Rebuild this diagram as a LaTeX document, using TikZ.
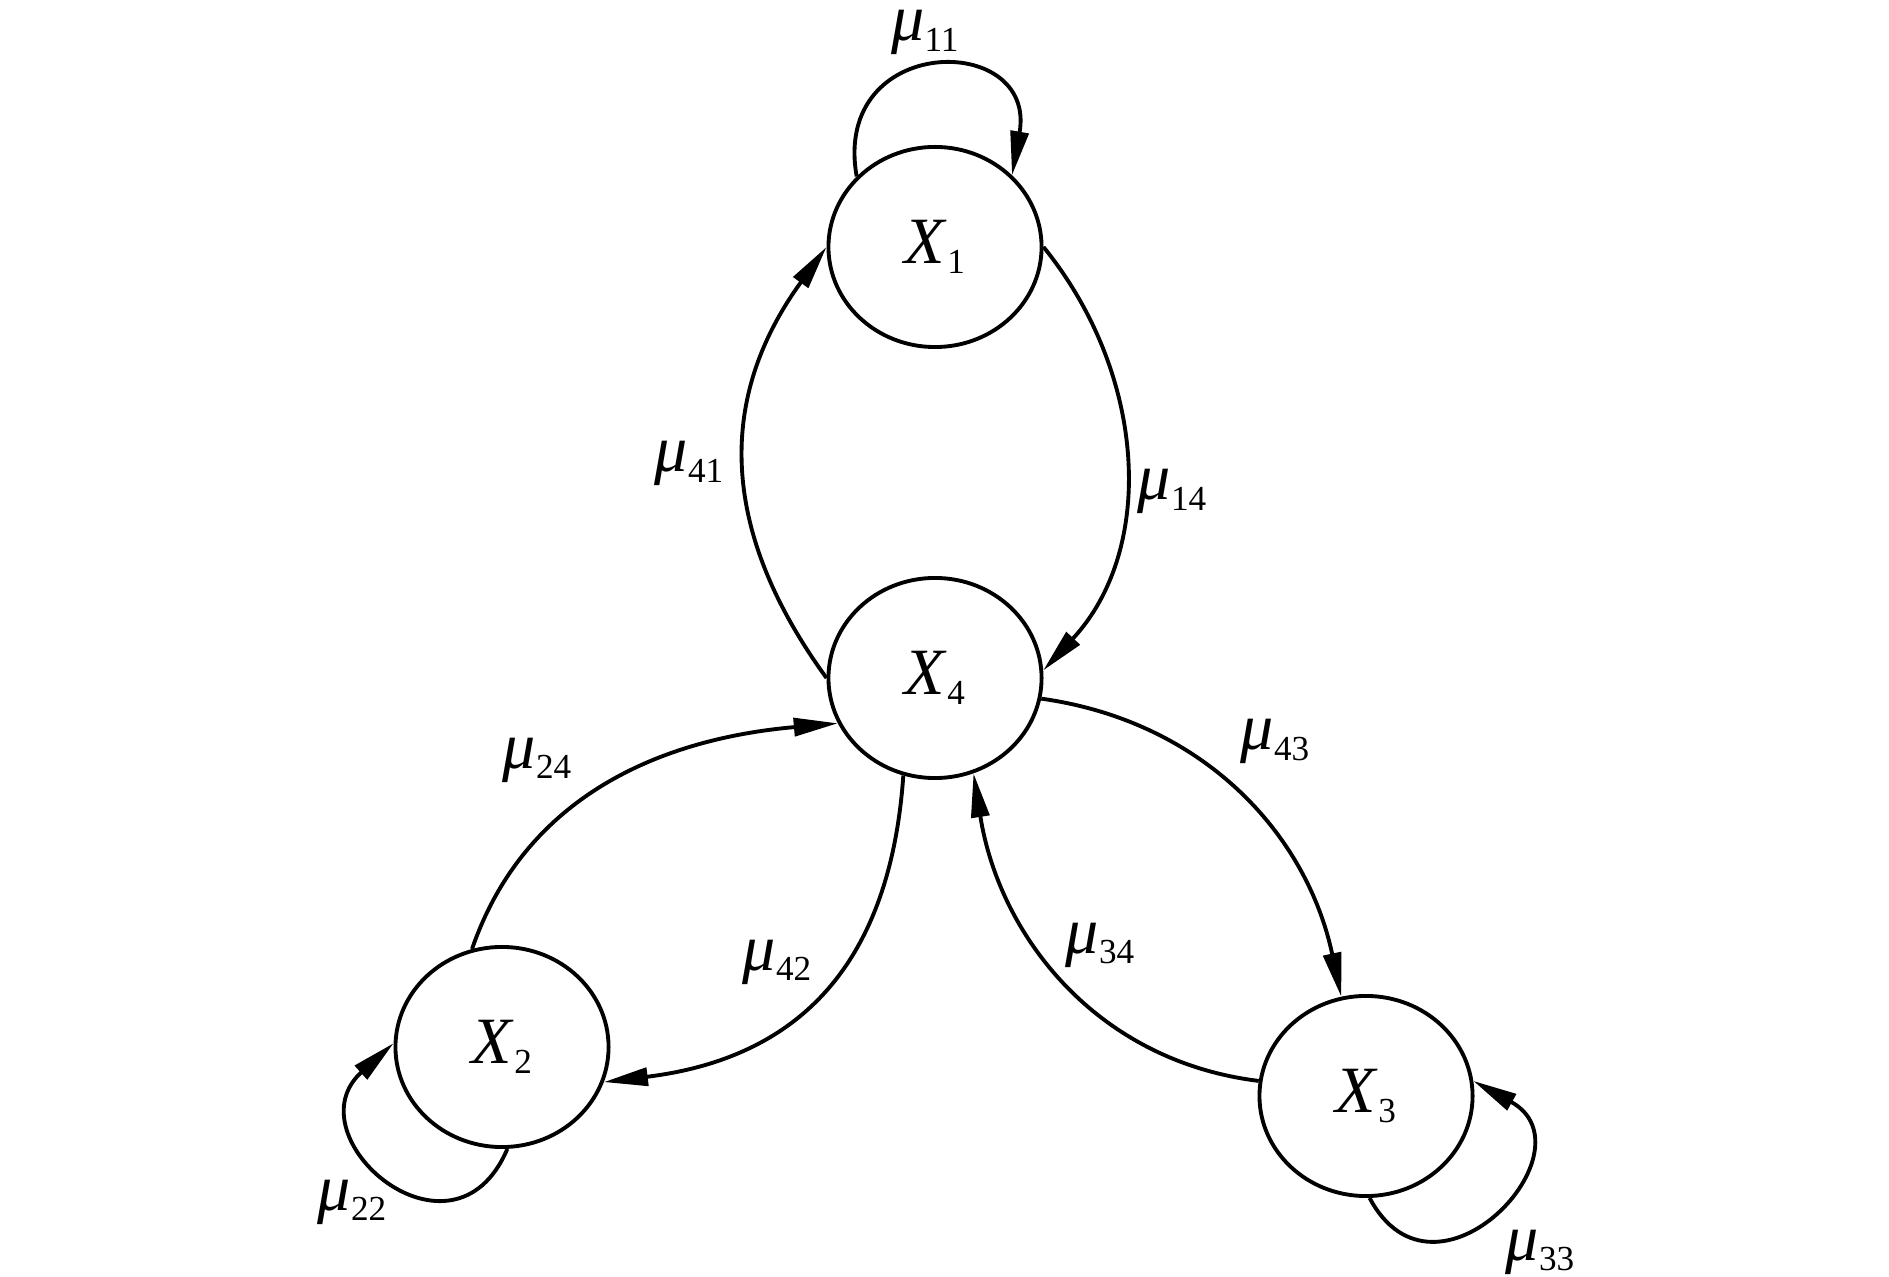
\documentclass[tikz,border=0pt]{standalone}
\usepackage{fontspec}
\setmainfont{Liberation Serif}
\usetikzlibrary{arrows.meta,shapes.geometric}
\newcommand{\pMarkovSub}[2]{\textit{#1}\raisebox{-3pt}{\fontsize{10}{12}\selectfont #2}}

\begin{document}
\begin{tikzpicture}[x=0.01cm,y=-0.01cm,
  font=\fontsize{18.8}{22}\selectfont,
  pState/.style={draw, ellipse, line width=1.1pt, inner sep=0pt, minimum width=2.13cm, minimum height=2cm},
  pRate/.style={anchor=base, inner sep=0pt},
  pEdge/.style={line width=1.1pt, -{Triangle[length=4.4mm,width=1.8mm]}}]
\useasboundingbox (0,0) rectangle (1889,1277);
% states
\node[pState] (X1) at (935,247) {\pMarkovSub{X}{1}};
\node[pState] (X4) at (935,678) {\pMarkovSub{X}{4}};
\node[pState] (X2) at (502,1047) {\pMarkovSub{X}{2}};
\node[pState] (X3) at (1366,1096) {\pMarkovSub{X}{3}};
% rates
\node[pRate] (m11) at (925,41) {\pMarkovSub{μ}{11}};
\node[pRate] (m41) at (689,472) {\pMarkovSub{μ}{41}};
\node[pRate] (m14) at (1172,500) {\pMarkovSub{μ}{14}};
\node[pRate] (m24) at (537,768) {\pMarkovSub{μ}{24}};
\node[pRate] (m42) at (777,970) {\pMarkovSub{μ}{42}};
\node[pRate] (m43) at (1275,750) {\pMarkovSub{μ}{43}};
\node[pRate] (m34) at (1100,953) {\pMarkovSub{μ}{34}};
\node[pRate] (m22) at (352,1210) {\pMarkovSub{μ}{22}};
\node[pRate] (m33) at (1540,1260) {\pMarkovSub{μ}{33}};
% transitions
\draw[pEdge] (X4.180) to[out=126,in=234,looseness=1.1] (X1.180);
\draw[pEdge] (X1.0) to[out=-51,in=47] (X4.4);
\draw[pEdge] (X2.107) to[out=71,in=185] (X4.205);
\draw[pEdge] (X4.252) to[out=266,in=7,looseness=1.15] (X2.341);
\draw[pEdge] (X4.349) to[out=-8,in=102] (X3.104);
\draw[pEdge] (X3.172) to[out=173,in=279] (X4.292);
% self loops
\draw[pEdge] (X1.138) to[out=100,in=80,looseness=2.4] (X1.43);
\draw[pEdge] (X2.273) to[out=247,in=222,looseness=2.3] (X2.178);
\draw[pEdge] (X3.272) to[out=298,in=331,looseness=2.3] (X3.8);
\end{tikzpicture}
\end{document}
